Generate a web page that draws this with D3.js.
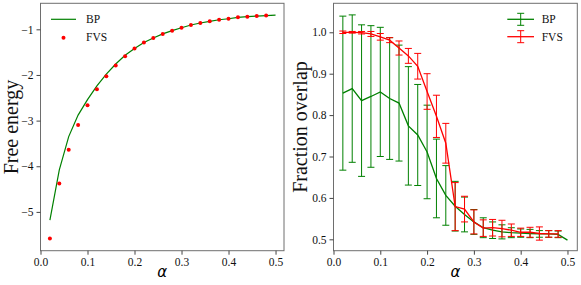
<!DOCTYPE html>
<html>
<head>
<meta charset="utf-8">
<script src="https://cdn.jsdelivr.net/npm/d3@7"></script>
<style>
  body { margin: 0; background: #fff; }
</style>
</head>
<body>
<div id="chart"></div>
<script>
"use strict";

// alpha values
var alphaBP = [0.02,0.04,0.06,0.08,0.10,0.12,0.14,0.16,0.18,0.20,0.22,0.24,0.26,0.28,0.30,0.32,0.34,0.36,0.38,0.40,0.42,0.44,0.46,0.48,0.50];
var alphaFVS = [0.02,0.04,0.06,0.08,0.10,0.12,0.14,0.16,0.18,0.20,0.22,0.24,0.26,0.28,0.30,0.32,0.34,0.36,0.38,0.40,0.42,0.44,0.46,0.48];

// left panel: free energy
var energyBP = [-5.18,-4.08,-3.35,-2.88,-2.54,-2.24,-1.98,-1.76,-1.57,-1.42,-1.29,-1.19,-1.10,-1.03,-0.965,-0.906,-0.862,-0.825,-0.79,-0.768,-0.74,-0.724,-0.71,-0.70,-0.69];
var energyFVS = [-5.585,-4.38,-3.636,-3.095,-2.665,-2.314,-2.03,-1.79,-1.59,-1.42,-1.29,-1.19,-1.10,-1.03,-0.965,-0.906,-0.862,-0.825,-0.79,-0.768,-0.737,-0.724,-0.709,-0.70];

// right panel: fraction overlap with error bars
var overlapBP = [0.853,0.864,0.835,0.845,0.856,0.840,0.829,0.774,0.752,0.711,0.647,0.606,0.580,0.560,0.542,0.528,0.522,0.518,0.516,0.515,0.514,0.513,0.513,0.512,0.498];
var errBP = [0.186,0.178,0.183,0.171,0.156,0.147,0.140,0.143,0.122,0.113,0.095,0.072,0.06,0.042,0.03,0.024,0.02,0.017,0.012,0.01,0.01,0.008,0.008,0.008,0];
var overlapFVS = [1.000,1.000,0.999,0.996,0.989,0.981,0.962,0.943,0.918,0.857,0.797,0.732,0.579,0.573,0.542,0.527,0.528,0.526,0.522,0.517,0.517,0.514,0.513,0.513];
var errFVS = [0.003,0.002,0.003,0.006,0.008,0.006,0.017,0.018,0.031,0.043,0.051,0.048,0.058,0.031,0.029,0.02,0.02,0.02,0.015,0.01,0.012,0.016,0.008,0.008];

var xTicks = [0, 0.1, 0.2, 0.3, 0.4, 0.5];
var energyTicks = [-5, -4, -3, -2, -1];
var overlapTicks = [0.5, 0.6, 0.7, 0.8, 0.9, 1.0];

var width = 581, height = 285;
var serif = '"Liberation Serif", "Times New Roman", serif';

var svg = d3.select("#chart").append("svg")
  .attr("width", width)
  .attr("height", height);

function drawFrame(x, y) {
  svg.append("rect")
    .attr("x", x.range()[0])
    .attr("y", y.range()[1])
    .attr("width", x.range()[1] - x.range()[0])
    .attr("height", y.range()[0] - y.range()[1])
    .attr("fill", "none")
    .attr("stroke", "#6e6e6e")
    .attr("stroke-width", 1);
}

function styleAxis(g) {
  g.select(".domain").remove();
  g.attr("font-family", null).attr("font-size", null);
  g.selectAll(".tick line").attr("stroke", "#444");
  g.selectAll(".tick text")
    .style("font-family", serif)
    .style("font-size", "11.5px")
    .attr("fill", "#111");
}

function drawAxes(x, y, yTickVals, yFormat) {
  var gx = svg.append("g")
    .attr("transform", "translate(0," + y.range()[0] + ")")
    .call(d3.axisBottom(x).tickValues(xTicks).tickFormat(d3.format(".1f")).tickSize(4).tickPadding(3));
  styleAxis(gx);

  var gy = svg.append("g")
    .attr("transform", "translate(" + x.range()[0] + ",0)")
    .call(d3.axisLeft(y).tickValues(yTickVals).tickFormat(yFormat).tickSize(4).tickPadding(3));
  styleAxis(gy);

  svg.append("text")
    .attr("x", (x.range()[0] + x.range()[1]) / 2)
    .attr("y", 277)
    .attr("text-anchor", "middle")
    .style("font-family", '"DejaVu Sans", sans-serif')
    .style("font-style", "italic")
    .style("font-size", "15px")
    .text("α");
}

function yLabel(xpos, label) {
  svg.append("text")
    .attr("transform", "translate(" + xpos + ",127) rotate(-90)")
    .attr("text-anchor", "middle")
    .style("font-family", serif)
    .style("font-size", "20px")
    .attr("fill", "#111")
    .text(label);
}

// ---------- left panel ----------
var xL = d3.scaleLinear().domain([0, 0.518]).range([40.5, 284]);
var yL = d3.scaleLinear().domain([-5.85, -0.43]).range([250.7, 3.3]);

var lineL = d3.line()
  .x(function(d, i) { return xL(alphaBP[i]); })
  .y(function(d) { return yL(d); });

svg.append("path")
  .datum(energyBP)
  .attr("d", lineL)
  .attr("fill", "none")
  .attr("stroke", "green")
  .attr("stroke-width", 1.2);

svg.selectAll(".fvsdot")
  .data(energyFVS)
  .enter()
  .append("circle")
  .attr("class", "fvsdot")
  .attr("cx", function(d, i) { return xL(alphaFVS[i]); })
  .attr("cy", function(d) { return yL(d); })
  .attr("r", 2)
  .attr("fill", "red");

drawFrame(xL, yL);
drawAxes(xL, yL, energyTicks, d3.format("d"));
yLabel(17.5, "Free energy");

// left legend
svg.append("line")
  .attr("x1", 51).attr("x2", 76)
  .attr("y1", 19.3).attr("y2", 19.3)
  .attr("stroke", "green").attr("stroke-width", 1.2);
svg.append("circle")
  .attr("cx", 63.5).attr("cy", 37.7).attr("r", 2).attr("fill", "red");
svg.append("text").attr("x", 86).attr("y", 23)
  .style("font-family", serif).style("font-size", "11.5px").attr("fill", "#111").text("BP");
svg.append("text").attr("x", 86).attr("y", 41)
  .style("font-family", serif).style("font-size", "11.5px").attr("fill", "#111").text("FVS");

// ---------- right panel ----------
var xR = d3.scaleLinear().domain([0, 0.521]).range([333.5, 577.3]);
var yR = d3.scaleLinear().domain([0.4725, 1.07]).range([250.7, 3.3]);
var cap = 3.5;

function errorSeries(xs, ys, errs, color) {
  var g = svg.append("g");
  xs.forEach(function(a, i) {
    if (errs[i] <= 0) return;
    var cx = xR(a), top = yR(ys[i] + errs[i]), bot = yR(ys[i] - errs[i]);
    g.append("line").attr("x1", cx).attr("x2", cx).attr("y1", top).attr("y2", bot)
      .attr("stroke", color).attr("stroke-width", 1);
    g.append("line").attr("x1", cx - cap).attr("x2", cx + cap).attr("y1", top).attr("y2", top)
      .attr("stroke", color).attr("stroke-width", 1);
    g.append("line").attr("x1", cx - cap).attr("x2", cx + cap).attr("y1", bot).attr("y2", bot)
      .attr("stroke", color).attr("stroke-width", 1);
  });
  var line = d3.line()
    .x(function(d, i) { return xR(xs[i]); })
    .y(function(d) { return yR(d); });
  g.append("path").datum(ys).attr("d", line)
    .attr("fill", "none").attr("stroke", color).attr("stroke-width", 1.3);
}

errorSeries(alphaBP, overlapBP, errBP, "green");
errorSeries(alphaFVS, overlapFVS, errFVS, "red");

drawFrame(xR, yR);
drawAxes(xR, yR, overlapTicks, d3.format(".1f"));
yLabel(307, "Fraction overlap");

// right legend
[["BP", "green", 19.3], ["FVS", "red", 36.7]].forEach(function(row) {
  var cy = row[2], cx = 520.7;
  svg.append("line").attr("x1", 507.3).attr("x2", 534).attr("y1", cy).attr("y2", cy)
    .attr("stroke", row[1]).attr("stroke-width", 1.3);
  svg.append("line").attr("x1", cx).attr("x2", cx).attr("y1", cy - 6).attr("y2", cy + 6)
    .attr("stroke", row[1]).attr("stroke-width", 1);
  svg.append("line").attr("x1", cx - cap).attr("x2", cx + cap).attr("y1", cy - 6).attr("y2", cy - 6)
    .attr("stroke", row[1]).attr("stroke-width", 1);
  svg.append("line").attr("x1", cx - cap).attr("x2", cx + cap).attr("y1", cy + 6).attr("y2", cy + 6)
    .attr("stroke", row[1]).attr("stroke-width", 1);
  svg.append("text").attr("x", 541.7).attr("y", cy + 4)
    .style("font-family", serif).style("font-size", "11.5px").attr("fill", "#111").text(row[0]);
});
</script>
</body>
</html>
